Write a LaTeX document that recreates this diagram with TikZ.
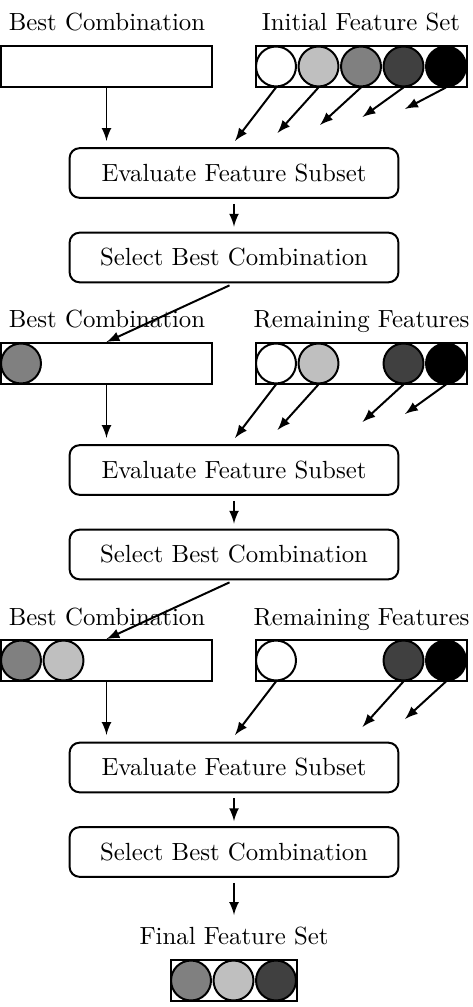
\documentclass[tikz,border=0pt]{standalone}
\usetikzlibrary{arrows}
\def\d{42.5}
\tikzset{
	bar/.style={draw,minimum width=#1,minimum height=16.5pt,inner sep=0pt},
	bar/.default=85pt,
	feat/.style={draw,circle,fill=#1,minimum size=16.1pt,inner sep=0pt},
	proc/.style={draw,rounded corners=4pt,minimum width=132.5pt,minimum height=20pt},
	lbl/.style={anchor=base}
}

\begin{document}
\begin{tikzpicture}[>=latex,thick,x=0.403pt,y=-0.403pt]
\useasboundingbox (0,0) rectangle (472,1007);
% first round
\node[lbl] (bl1) at (107,31) {Best Combination};
\node[lbl] (fl1) at (361,31) {Initial Feature Set};
\node[bar] (b1) at (106.5,66.5) {};
\node[bar] (f1) at (361.5,66.5) {};
\foreach \k/\c in {0/white,1/gray!50,2/gray,3/darkgray,4/black}{
	\node[feat=\c] (f1c\k) at ({276+\d*\k},66.5) {};
	\coordinate (t1c\k) at ({235+\d*\k},{141-8*\k});
	\draw[->] (f1c\k.south) -- (t1c\k);
}
\node[proc] (e1) at (234,173) {Evaluate Feature Subset};
\node[proc] (s1) at (234,257.5) {Select Best Combination};
\coordinate (a1) at (106.5,141);
\draw[->] (b1.south) -- (a1);
\draw[->,shorten <=2pt,shorten >=2pt] (e1) -- (s1);
% second round
\node[lbl] (bl2) at (107,328) {Best Combination};
\node[lbl] (fl2) at (361.5,328) {Remaining Features};
\node[bar] (b2) at (106.5,363.5) {};
\node[bar] (f2) at (361.5,363.5) {};
\node[feat=gray] (b2c0) at (21,363.5) {};
\foreach \k/\c/\r in {0/white/0,1/gray!50/1,3/darkgray/2,4/black/3}{
	\node[feat=\c] (f2c\k) at ({276+\d*\k},363.5) {};
	\coordinate (t2c\k) at ({235+\d*\k},{438-8*\r});
	\draw[->] (f2c\k.south) -- (t2c\k);
}
\node[proc] (e2) at (234,470) {Evaluate Feature Subset};
\node[proc] (s2) at (234,554.5) {Select Best Combination};
\coordinate (a2) at (106.5,438);
\draw[->] (b2.south) -- (a2);
\draw[->,shorten <=2pt,shorten >=2pt] (e2) -- (s2);
\draw[->,shorten <=2pt] (s1.south) -- (b2.north);
% third round
\node[lbl] (bl3) at (107,625) {Best Combination};
\node[lbl] (fl3) at (361.5,625) {Remaining Features};
\node[bar] (b3) at (106.5,660.5) {};
\node[bar] (f3) at (361.5,660.5) {};
\node[feat=gray] (b3c0) at (21,660.5) {};
\node[feat=gray!50] (b3c1) at ({21+\d},660.5) {};
\foreach \k/\c/\r in {0/white/0,3/darkgray/1,4/black/2}{
	\node[feat=\c] (f3c\k) at ({276+\d*\k},660.5) {};
	\coordinate (t3c\k) at ({235+\d*\k},{735-8*\r});
	\draw[->] (f3c\k.south) -- (t3c\k);
}
\node[proc] (e3) at (234,767.5) {Evaluate Feature Subset};
\node[proc] (s3) at (234,852) {Select Best Combination};
\coordinate (a3) at (106.5,735);
\draw[->] (b3.south) -- (a3);
\draw[->,shorten <=2pt,shorten >=2pt] (e3) -- (s3);
\draw[->,shorten <=2pt] (s2.south) -- (b3.north);
% result
\node[lbl] (fin) at (234,944) {Final Feature Set};
\node[bar=50.8pt] (r) at (234,980.5) {};
\foreach \k/\c in {0/gray,1/gray!50,2/darkgray}
	\node[feat=\c] (rc\k) at ({191+\d*\k},980.5) {};
\coordinate (a4) at (234,915);
\draw[->,shorten <=2pt] (s3.south) -- (a4);
\end{tikzpicture}
\end{document}
